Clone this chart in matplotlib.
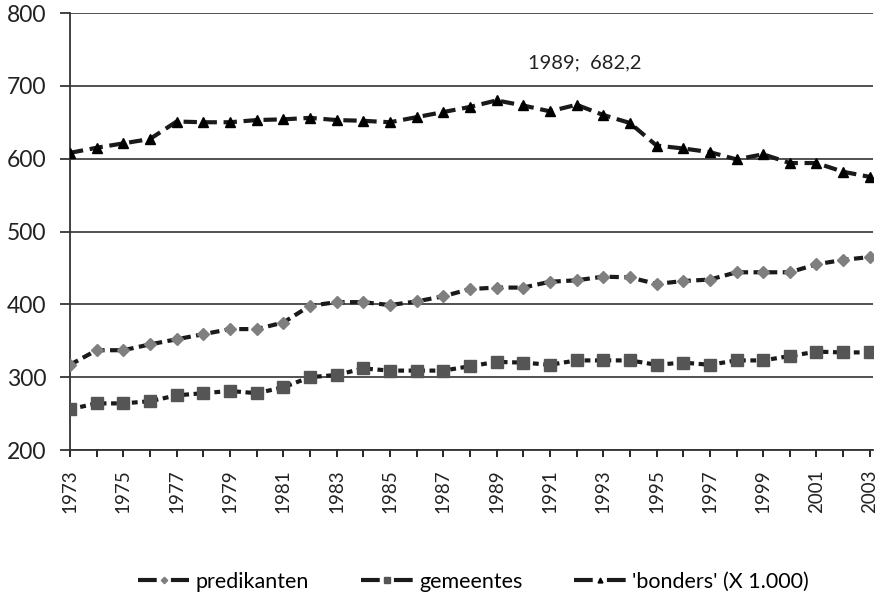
import matplotlib.pyplot as plt
from matplotlib.lines import Line2D

# --- data ---
jaren = list(range(1973, 2004))

predikanten = [317, 337, 337, 345, 352, 359, 366, 366, 375, 398, 403, 403, 399, 404,
               411, 421, 423, 423, 431, 433, 438, 437, 428, 432, 434, 444, 444, 444,
               455, 461, 465]

gemeentes = [256, 264, 264, 267, 275, 278, 281, 278, 286, 300, 303, 312, 309, 309,
             309, 315, 321, 320, 317, 323, 323, 323, 317, 320, 317, 323, 323, 329,
             335, 334, 334]

bonders = [608, 615, 621, 627, 651, 650, 650, 653, 654, 656, 653, 652, 650, 657,
           664, 671, 680, 673, 665, 674, 660, 649, 618, 614, 609, 599, 606, 594,
           594, 582, 575]

reeksen = ['predikanten', 'gemeentes', "'bonders' (X 1.000)"]
piek_jaar = 1989
piek_label = "1989;  682,2"
xtick_jaren = list(range(1973, 2004, 2))
yticks = [200, 300, 400, 500, 600, 700, 800]

plt.rcParams['font.family'] = ['Lato', 'DejaVu Sans']

fig = plt.figure(figsize=(8.83, 5.98), dpi=100)
ax = fig.add_axes([70 / 883, 1 - 450 / 598, 803 / 883, 437 / 598])

# stijl per reeks: marker, grootte, kleur, streepjes
stijlen = [('D', 6.5, '#7f7f7f', (2.2, 1.3)),
           ('s', 8.5, '#555555', (1.4, 1.1)),
           ('^', 7.0, 'black', (3.2, 1.6))]

for waarden, (m, ms, kl, ds) in zip([predikanten, gemeentes, bonders], stijlen):
    ax.plot(jaren, waarden, color='#1a1a1a', lw=3.0, dashes=ds,
            marker=m, markersize=ms, markerfacecolor=kl, markeredgecolor=kl,
            zorder=3)

ax.annotate(piek_label, xy=(piek_jaar, bonders[jaren.index(piek_jaar)]),
            xytext=(88, 38), textcoords='offset pixels', ha='center', va='center',
            fontsize=14.5, color='#222222')

ax.set_xlim(1973, 2003.12)
ax.set_ylim(200, 800)
ax.set_yticks(yticks)
ax.set_xticks(jaren)
ax.set_xticklabels([str(j) if j in xtick_jaren else '' for j in jaren],
                   rotation=90, fontsize=13.5, color='#222222')
ax.tick_params(axis='y', labelsize=16.5, colors='#222222', length=7, width=1.2, pad=10)
ax.tick_params(axis='x', length=5, width=1.2, pad=9)

ax.grid(axis='y', color='#333333', lw=1.2)
ax.set_axisbelow(True)
for s in ['top', 'right']:
    ax.spines[s].set_visible(False)
for s in ['left', 'bottom']:
    ax.spines[s].set_color('#333333')
    ax.spines[s].set_linewidth(1.3)

# legenda: streep - klein merkteken - streep
handles = [(Line2D([], [], color='#1a1a1a', lw=3.0, dashes=(4.5, 3.4)),
            Line2D([], [], ls='none', marker=m, markersize=ms * 0.5,
                   markerfacecolor=kl, markeredgecolor=kl))
           for (m, ms, kl, ds) in stijlen]
fig.legend(handles, reeksen, loc='center', bbox_to_anchor=(0.536, 1 - 582 / 598), ncol=3,
           frameon=False, fontsize=15.5, handlelength=2.4, numpoints=1,
           columnspacing=2.4, handletextpad=0.3)

fig.savefig('out.png', dpi=100)
